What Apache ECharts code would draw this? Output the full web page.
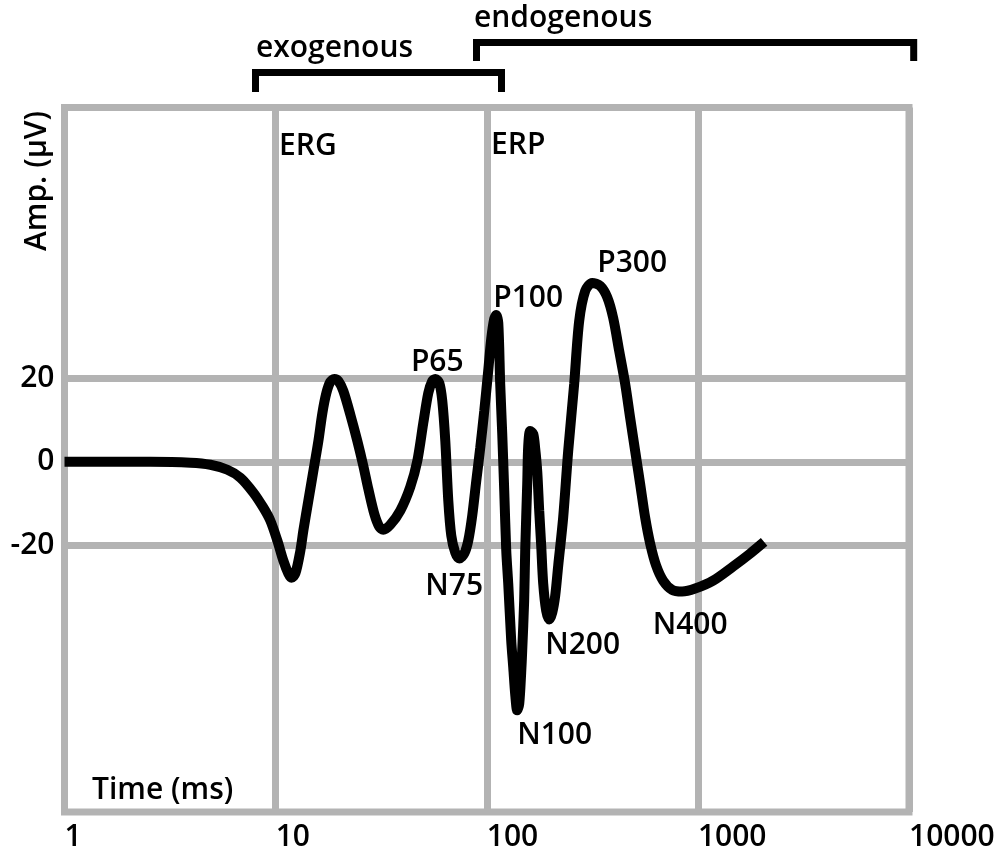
<!DOCTYPE html>
<html>
<head>
<meta charset="utf-8">
<script src="https://cdn.jsdelivr.net/npm/echarts@6/dist/echarts.min.js"></script>
<style>html,body{margin:0;padding:0;background:#fff}#c{width:997px;height:851px}</style>
</head>
<body>
<div id="c"></div>
<script>
// ---- data ----
const timeMs = [
  1, 2.55, 3.95, 4.91, 5.91, 6.81, 7.85, 8.75, 9.44, 10.19,
  10.88, 11.49, 11.88, 12.40, 13.10, 13.53, 14.29, 15.09, 15.94, 16.65,
  17.39, 18.16, 18.97, 19.82, 20.93, 22.59, 24.38, 26.03, 27.48, 29.34,
  30.98, 32.36, 34.93, 38.95, 43.44, 46.88, 50.05, 52.86, 55.21, 57.05,
  59.60, 61.58, 63.63, 65.74, 67.92, 70.94, 74.09, 78.25, 81.73, 85.36,
  89.18, 93.16, 97.32, 101.6, 105.0, 108.5, 110.9, 113.4, 115.8, 118.4,
  121.0, 123.7, 126.4, 130.6, 133.5, 136.5, 139.4, 142.5, 145.6, 147.2,
  150.4, 152.1, 155.5, 157.2, 160.6, 166.0, 169.7, 173.4, 177.2, 181.1,
  185.1, 191.2, 197.6, 204.2, 211.0, 218.0, 230.1, 243.1, 259.5, 274.1,
  292.7, 315.8, 344.6, 371.9, 397.1, 423.9, 452.5, 477.9, 504.6, 532.9,
  562.8, 594.3, 634.5, 684.7, 755.2, 842.2, 970.5, 1181, 1468, 1767,
  2059
];
const ampUv = [
  0, 0, -0.2, -0.7, -1.9, -3.8, -7.4, -11.0, -14.1, -18.9,
  -23.7, -26.8, -27.8, -26.8, -21.3, -16.5, -9.3, -2.2, 5.0, 11.7,
  16.5, 19.2, 19.9, 19.4, 17.0, 11.3, 5.0, -1.0, -6.5, -12.5,
  -15.6, -16.3, -15.1, -11.7, -6.0, 0.2, 9.3, 16.5, 19.4, 19.9,
  18.9, 14.6, 5.0, -9.3, -17.7, -21.8, -23.2, -22.0, -18.9, -12.9,
  -4.6, 3.4, 12.2, 21.8, 29.5, 34.3, 35.2, 33.3, 18.7, 6.7,
  -6.9, -21.3, -29.2, -42.9, -49.3, -56.0, -59.6, -58.0, -50.5, -45.3,
  -33.3, -21.3, -5.3, 3.8, 7.4, 6.7, 3.1, -2.2, -11.7, -20.1,
  -29.2, -35.7, -37.8, -36.2, -32.1, -24.9, -13.4, 2.6, 18.7, 33.8,
  41.0, 42.9, 42.2, 39.5, 34.5, 26.6, 18.7, 10.5, 2.6, -5.3,
  -13.4, -19.6, -24.9, -28.5, -30.7, -31.1, -30.4, -28.5, -25.1, -22.0,
  -19.2
];
const yTickValues = [-20, 0, 20];
const peakNames = ['P65', 'N75', 'P100', 'N100', 'N200', 'P300', 'N400'];
const peakTimes = [57.05, 74.09, 110.9, 139.4, 197.6, 315.8, 842.2];
const componentNames = ['ERG', 'ERP'];
const regionNames = ['exogenous', 'endogenous'];
const xAxisName = 'Time (ms)';
const yAxisName = 'Amp. (µV)';

// ---- styling / build ----
const GRAY = '#b3b3b3';
const FONT = 'Open Sans';
const FW = 600;
const FS = 30;
const FONTCSS = FW + ' ' + FS + 'px "' + FONT + '"';
const curve = timeMs.map((t, i) => [t, ampUv[i]]);
const peakLabelStyle = {
  P65:  { align: 'center', offset: [2, -16] },
  N75:  { align: 'center', offset: [-5, 28] },
  P100: { align: 'left',   offset: [-3, -17] },
  N100: { align: 'left',   offset: [0, 25] },
  N200: { align: 'left',   offset: [-4, 26] },
  P300: { align: 'left',   offset: [5, -20] },
  N400: { align: 'center', offset: [8, 34] }
};
const peakData = peakNames.map((n, i) => {
  const k = timeMs.indexOf(peakTimes[i]);
  const s = peakLabelStyle[n];
  return {
    name: n,
    value: [timeMs[k], ampUv[k]],
    label: {
      show: true, position: 'inside', align: s.align, verticalAlign: 'middle', offset: s.offset,
      color: '#000', fontFamily: FONT, fontSize: FS, fontWeight: FW, textBorderWidth: 0
    }
  };
});
const textEl = (txt, x, y, align) => ({
  type: 'text', x: x, y: y, silent: true,
  style: { text: txt, fill: '#000', font: FONTCSS, textAlign: align || 'left', textVerticalAlign: 'middle' }
});

const chart = echarts.init(document.getElementById('c'), null, { renderer: 'canvas' });
chart.setOption({
  animation: false,
  backgroundColor: '#fff',
  grid: {
    left: 64.5, right: 88, top: 107.5, bottom: 39,
    show: true, borderColor: GRAY, borderWidth: 7, backgroundColor: 'transparent',
    outerBoundsMode: 'none'
  },
  xAxis: {
    type: 'log', logBase: 10, min: 1, max: 10000,
    axisLine: { show: false }, axisTick: { show: false },
    axisLabel: {
      color: '#000', fontFamily: FONT, fontSize: FS, fontWeight: FW, align: 'left', margin: 10,
      formatter: v => String(Math.round(v))
    },
    splitLine: { show: true, lineStyle: { color: GRAY, width: 7 } }
  },
  yAxis: {
    type: 'value', min: -84, max: 85, interval: 4,
    axisLine: { show: false }, axisTick: { show: false },
    splitLine: { show: false },
    axisLabel: {
      color: '#000', fontFamily: FONT, fontSize: FS, fontWeight: FW, margin: 10,
      formatter: v => (yTickValues.indexOf(Math.round(v)) >= 0 && Math.abs(v - Math.round(v)) < 1e-6) ? String(Math.round(v)) : ''
    }
  },
  series: [
    {
      name: 'grid-h', type: 'line', data: [], z: 1, silent: true,
      markLine: {
        silent: true, symbol: 'none', animation: false,
        label: { show: false },
        lineStyle: { color: GRAY, width: 7, type: 'solid' },
        data: yTickValues.map(v => ({ yAxis: v }))
      }
    },
    {
      name: 'amplitude', type: 'line', data: curve, z: 5,
      smooth: 0.3, showSymbol: false, clip: false,
      lineStyle: { color: '#000', width: 10 }
    },
    {
      name: 'peaks', type: 'scatter', data: peakData, z: 6, silent: true,
      symbolSize: 1, itemStyle: { color: 'rgba(0,0,0,0)', opacity: 1 },
      label: { show: true, formatter: p => p.name, color: '#000' }
    }
  ],
  graphic: [
    textEl(componentNames[0], 279, 146),
    textEl(componentNames[1], 491, 145),
    textEl(regionNames[0], 256, 48),
    textEl(regionNames[1], 474, 18),
    textEl(xAxisName, 92, 790),
    {
      type: 'text', x: 37.5, y: 181, rotation: Math.PI / 2, silent: true,
      style: { text: yAxisName, fill: '#000', font: FONTCSS, textAlign: 'center', textVerticalAlign: 'middle' }
    },
    {
      type: 'polyline', silent: true,
      shape: { points: [[255.5, 92], [255.5, 72.5], [501.5, 72.5], [501.5, 92]] },
      style: { stroke: '#000', lineWidth: 7, fill: null, lineJoin: 'miter', lineCap: 'butt' }
    },
    {
      type: 'polyline', silent: true,
      shape: { points: [[476.5, 61], [476.5, 42.5], [913.7, 42.5], [913.7, 61]] },
      style: { stroke: '#000', lineWidth: 7, fill: null, lineJoin: 'miter', lineCap: 'butt' }
    }
  ]
});
</script>
</body>
</html>
